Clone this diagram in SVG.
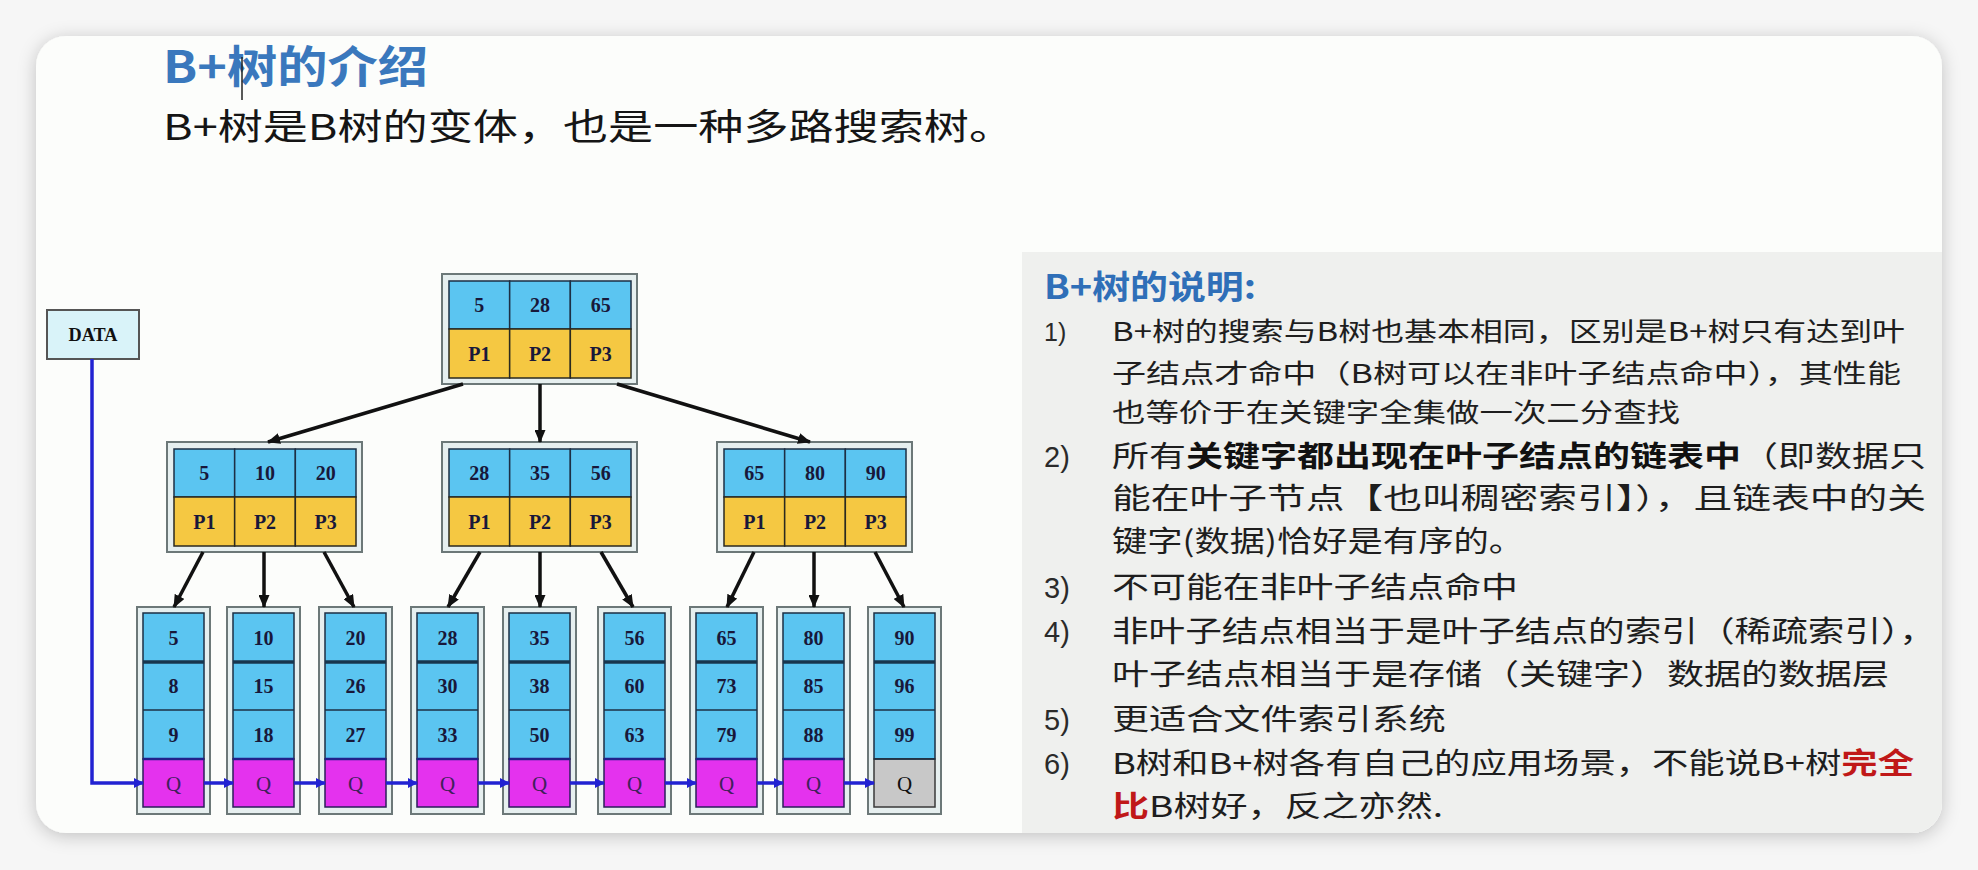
<svg xmlns="http://www.w3.org/2000/svg" width="1978" height="870" viewBox="0 0 1978 870">
<defs>
<style>
.frame{fill:#e6efef;stroke:#6c7878;stroke-width:2}
.kc{fill:#5bc5f1;stroke:#1d2f44;stroke-width:1.5}
.pc{fill:#f5c842;stroke:#2a2a20;stroke-width:1.5}
.qc{fill:#e432ee;stroke:#2a1f5a;stroke-width:1.5}
.qg{fill:#c8c8c8;stroke:#3a3a3a;stroke-width:1.5}
.ct{font-family:"Liberation Serif",serif;font-weight:bold;font-size:20px;fill:#18183a;text-anchor:middle}
.qt{font-family:"Liberation Serif",serif;font-size:21px;fill:#40205a;text-anchor:middle}
.div1{stroke:#17364e;stroke-width:3.5}
.div2{stroke:#1d2f44;stroke-width:1.5}
.div3{stroke:#22208a;stroke-width:2.5}
.arr{stroke:#111;stroke-width:3.5;fill:none;marker-end:url(#ab)}
.lnk{stroke:#2222d2;stroke-width:3.5;fill:none;marker-end:url(#ablue)}
.cj{font-family:"Noto Sans CJK SC","Noto Sans",sans-serif;fill:#1e1e1e}
.num{font-family:"Liberation Sans",sans-serif;fill:#2a2a2a}
.red{fill:#c01818;font-weight:bold}
</style>
<marker id="ab" viewBox="0 0 13 11" markerWidth="13" markerHeight="11" refX="12" refY="5.5" orient="auto" markerUnits="userSpaceOnUse"><path d="M0,0 L13,5.5 L0,11 z" fill="#111"/></marker>
<marker id="ablue" viewBox="0 0 10 10" markerWidth="10" markerHeight="10" refX="9" refY="5" orient="auto" markerUnits="userSpaceOnUse"><path d="M0,0 L10,5 L0,10 z" fill="#2222d2"/></marker>
<filter id="sh" x="-5%" y="-5%" width="110%" height="115%"><feDropShadow dx="0" dy="3" stdDeviation="9" flood-color="#000" flood-opacity="0.22"/></filter>
<clipPath id="cardclip"><rect x="36" y="36" width="1906" height="797" rx="30"/></clipPath>
</defs>

<rect x="0" y="0" width="1978" height="870" fill="#f6f6f6"/>
<g id="card">
<rect x="36" y="36" width="1906" height="797" rx="30" fill="#fcfdfb" filter="url(#sh)"/>
<rect x="1022" y="252" width="920" height="581" fill="#eff0ee" clip-path="url(#cardclip)"/>
</g>

<g id="heading">
<text x="163" y="83" class="cj" font-size="44" font-weight="bold" style="fill:#3a78bd" textLength="265" lengthAdjust="spacingAndGlyphs">B+树的介绍</text>
<text x="163" y="140" class="cj" font-size="36" textLength="851" lengthAdjust="spacingAndGlyphs" style="fill:#151515">B+树是B树的变体，也是一种多路搜索树。</text>
<line x1="242" y1="57" x2="242" y2="100" stroke="#222" stroke-width="1.5"/>
</g>

<g id="data">
<rect x="47" y="310" width="92" height="49" fill="#d9f3f9" stroke="#555" stroke-width="2"/>
<text x="93" y="341" class="ct" style="font-size:18px;fill:#111" textLength="49" lengthAdjust="spacingAndGlyphs">DATA</text>
</g>

<!-- internal nodes -->
<g id="root">
<rect class="frame" x="442" y="274" width="195" height="110"/>
<rect class="kc" x="449" y="281" width="60.67" height="48"/><rect class="kc" x="509.67" y="281" width="60.67" height="48"/><rect class="kc" x="570.33" y="281" width="60.67" height="48"/>
<rect class="pc" x="449" y="329" width="60.67" height="49"/><rect class="pc" x="509.67" y="329" width="60.67" height="49"/><rect class="pc" x="570.33" y="329" width="60.67" height="49"/>
<text class="ct" x="479.3" y="312">5</text><text class="ct" x="540" y="312">28</text><text class="ct" x="600.7" y="312">65</text>
<text class="ct" x="479.3" y="361">P1</text><text class="ct" x="540" y="361">P2</text><text class="ct" x="600.7" y="361">P3</text>
</g>
<g id="n-left">
<rect class="frame" x="167" y="442" width="195" height="110"/>
<rect class="kc" x="174" y="449" width="60.67" height="48"/><rect class="kc" x="234.67" y="449" width="60.67" height="48"/><rect class="kc" x="295.33" y="449" width="60.67" height="48"/>
<rect class="pc" x="174" y="497" width="60.67" height="49"/><rect class="pc" x="234.67" y="497" width="60.67" height="49"/><rect class="pc" x="295.33" y="497" width="60.67" height="49"/>
<text class="ct" x="204.3" y="480">5</text><text class="ct" x="265" y="480">10</text><text class="ct" x="325.7" y="480">20</text>
<text class="ct" x="204.3" y="529">P1</text><text class="ct" x="265" y="529">P2</text><text class="ct" x="325.7" y="529">P3</text>
</g>
<g id="n-mid">
<rect class="frame" x="442" y="442" width="195" height="110"/>
<rect class="kc" x="449" y="449" width="60.67" height="48"/><rect class="kc" x="509.67" y="449" width="60.67" height="48"/><rect class="kc" x="570.33" y="449" width="60.67" height="48"/>
<rect class="pc" x="449" y="497" width="60.67" height="49"/><rect class="pc" x="509.67" y="497" width="60.67" height="49"/><rect class="pc" x="570.33" y="497" width="60.67" height="49"/>
<text class="ct" x="479.3" y="480">28</text><text class="ct" x="540" y="480">35</text><text class="ct" x="600.7" y="480">56</text>
<text class="ct" x="479.3" y="529">P1</text><text class="ct" x="540" y="529">P2</text><text class="ct" x="600.7" y="529">P3</text>
</g>
<g id="n-right">
<rect class="frame" x="717" y="442" width="195" height="110"/>
<rect class="kc" x="724" y="449" width="60.67" height="48"/><rect class="kc" x="784.67" y="449" width="60.67" height="48"/><rect class="kc" x="845.33" y="449" width="60.67" height="48"/>
<rect class="pc" x="724" y="497" width="60.67" height="49"/><rect class="pc" x="784.67" y="497" width="60.67" height="49"/><rect class="pc" x="845.33" y="497" width="60.67" height="49"/>
<text class="ct" x="754.3" y="480">65</text><text class="ct" x="815" y="480">80</text><text class="ct" x="875.7" y="480">90</text>
<text class="ct" x="754.3" y="529">P1</text><text class="ct" x="815" y="529">P2</text><text class="ct" x="875.7" y="529">P3</text>
</g>

<!-- leaves -->
<g id="leaf1">
<rect class="frame" x="137" y="607" width="73" height="207"/>
<rect class="kc" x="143" y="613" width="61" height="146"/><rect class="qc" x="143" y="759" width="61" height="48"/>
<line class="div1" x1="143" y1="662" x2="204" y2="662"/><line class="div2" x1="143" y1="710" x2="204" y2="710"/><line class="div3" x1="143" y1="759" x2="204" y2="759"/>
<text class="ct" x="173.5" y="645">5</text><text class="ct" x="173.5" y="693">8</text><text class="ct" x="173.5" y="742">9</text><text class="qt" x="173.5" y="791">Q</text>
</g>
<g id="leaf2">
<rect class="frame" x="227" y="607" width="73" height="207"/>
<rect class="kc" x="233" y="613" width="61" height="146"/><rect class="qc" x="233" y="759" width="61" height="48"/>
<line class="div1" x1="233" y1="662" x2="294" y2="662"/><line class="div2" x1="233" y1="710" x2="294" y2="710"/><line class="div3" x1="233" y1="759" x2="294" y2="759"/>
<text class="ct" x="263.5" y="645">10</text><text class="ct" x="263.5" y="693">15</text><text class="ct" x="263.5" y="742">18</text><text class="qt" x="263.5" y="791">Q</text>
</g>
<g id="leaf3">
<rect class="frame" x="319" y="607" width="73" height="207"/>
<rect class="kc" x="325" y="613" width="61" height="146"/><rect class="qc" x="325" y="759" width="61" height="48"/>
<line class="div1" x1="325" y1="662" x2="386" y2="662"/><line class="div2" x1="325" y1="710" x2="386" y2="710"/><line class="div3" x1="325" y1="759" x2="386" y2="759"/>
<text class="ct" x="355.5" y="645">20</text><text class="ct" x="355.5" y="693">26</text><text class="ct" x="355.5" y="742">27</text><text class="qt" x="355.5" y="791">Q</text>
</g>
<g id="leaf4">
<rect class="frame" x="411" y="607" width="73" height="207"/>
<rect class="kc" x="417" y="613" width="61" height="146"/><rect class="qc" x="417" y="759" width="61" height="48"/>
<line class="div1" x1="417" y1="662" x2="478" y2="662"/><line class="div2" x1="417" y1="710" x2="478" y2="710"/><line class="div3" x1="417" y1="759" x2="478" y2="759"/>
<text class="ct" x="447.5" y="645">28</text><text class="ct" x="447.5" y="693">30</text><text class="ct" x="447.5" y="742">33</text><text class="qt" x="447.5" y="791">Q</text>
</g>
<g id="leaf5">
<rect class="frame" x="503" y="607" width="73" height="207"/>
<rect class="kc" x="509" y="613" width="61" height="146"/><rect class="qc" x="509" y="759" width="61" height="48"/>
<line class="div1" x1="509" y1="662" x2="570" y2="662"/><line class="div2" x1="509" y1="710" x2="570" y2="710"/><line class="div3" x1="509" y1="759" x2="570" y2="759"/>
<text class="ct" x="539.5" y="645">35</text><text class="ct" x="539.5" y="693">38</text><text class="ct" x="539.5" y="742">50</text><text class="qt" x="539.5" y="791">Q</text>
</g>
<g id="leaf6">
<rect class="frame" x="598" y="607" width="73" height="207"/>
<rect class="kc" x="604" y="613" width="61" height="146"/><rect class="qc" x="604" y="759" width="61" height="48"/>
<line class="div1" x1="604" y1="662" x2="665" y2="662"/><line class="div2" x1="604" y1="710" x2="665" y2="710"/><line class="div3" x1="604" y1="759" x2="665" y2="759"/>
<text class="ct" x="634.5" y="645">56</text><text class="ct" x="634.5" y="693">60</text><text class="ct" x="634.5" y="742">63</text><text class="qt" x="634.5" y="791">Q</text>
</g>
<g id="leaf7">
<rect class="frame" x="690" y="607" width="73" height="207"/>
<rect class="kc" x="696" y="613" width="61" height="146"/><rect class="qc" x="696" y="759" width="61" height="48"/>
<line class="div1" x1="696" y1="662" x2="757" y2="662"/><line class="div2" x1="696" y1="710" x2="757" y2="710"/><line class="div3" x1="696" y1="759" x2="757" y2="759"/>
<text class="ct" x="726.5" y="645">65</text><text class="ct" x="726.5" y="693">73</text><text class="ct" x="726.5" y="742">79</text><text class="qt" x="726.5" y="791">Q</text>
</g>
<g id="leaf8">
<rect class="frame" x="777" y="607" width="73" height="207"/>
<rect class="kc" x="783" y="613" width="61" height="146"/><rect class="qc" x="783" y="759" width="61" height="48"/>
<line class="div1" x1="783" y1="662" x2="844" y2="662"/><line class="div2" x1="783" y1="710" x2="844" y2="710"/><line class="div3" x1="783" y1="759" x2="844" y2="759"/>
<text class="ct" x="813.5" y="645">80</text><text class="ct" x="813.5" y="693">85</text><text class="ct" x="813.5" y="742">88</text><text class="qt" x="813.5" y="791">Q</text>
</g>
<g id="leaf9">
<rect class="frame" x="868" y="607" width="73" height="207"/>
<rect class="kc" x="874" y="613" width="61" height="146"/><rect class="qg" x="874" y="759" width="61" height="48"/>
<line class="div1" x1="874" y1="662" x2="935" y2="662"/><line class="div2" x1="874" y1="710" x2="935" y2="710"/><line class="div2" x1="874" y1="759" x2="935" y2="759"/>
<text class="ct" x="904.5" y="645">90</text><text class="ct" x="904.5" y="693">96</text><text class="ct" x="904.5" y="742">99</text><text class="qt" x="904.5" y="791" style="fill:#111">Q</text>
</g>

<g id="connectors">
<line class="arr" x1="463" y1="384" x2="268" y2="442"/>
<line class="arr" x1="540" y1="384" x2="540" y2="442"/>
<line class="arr" x1="617" y1="384" x2="810" y2="442"/>
<line class="arr" x1="203" y1="552" x2="174" y2="607"/>
<line class="arr" x1="264" y1="552" x2="264" y2="607"/>
<line class="arr" x1="324" y1="552" x2="354" y2="607"/>
<line class="arr" x1="480" y1="552" x2="448" y2="607"/>
<line class="arr" x1="540" y1="552" x2="540" y2="607"/>
<line class="arr" x1="601" y1="552" x2="633" y2="607"/>
<line class="arr" x1="754" y1="552" x2="727" y2="607"/>
<line class="arr" x1="814" y1="552" x2="814" y2="607"/>
<line class="arr" x1="875" y1="552" x2="904" y2="607"/>
<path class="lnk" d="M92,359 V783 H143"/>
<line class="lnk" x1="204" y1="783" x2="233" y2="783"/>
<line class="lnk" x1="294" y1="783" x2="325" y2="783"/>
<line class="lnk" x1="386" y1="783" x2="417" y2="783"/>
<line class="lnk" x1="478" y1="783" x2="509" y2="783"/>
<line class="lnk" x1="570" y1="783" x2="604" y2="783"/>
<line class="lnk" x1="665" y1="783" x2="696" y2="783"/>
<line class="lnk" x1="757" y1="783" x2="783" y2="783"/>
<line class="lnk" x1="844" y1="783" x2="874" y2="783"/>
</g>

<g id="notes">
<text x="1044" y="299" class="cj" font-size="33" font-weight="bold" style="fill:#2f6fb8" textLength="212" lengthAdjust="spacingAndGlyphs">B+树的说明:</text>
<text x="1044" y="341" class="num" font-size="25">1)</text>
<text x="1112" y="341" class="cj" font-size="26" textLength="793" lengthAdjust="spacingAndGlyphs">B+树的搜索与B树也基本相同，区别是B+树只有达到叶</text>
<text x="1112" y="383" class="cj" font-size="26" textLength="789" lengthAdjust="spacingAndGlyphs">子结点才命中（B树可以在非叶子结点命中），其性能</text>
<text x="1112" y="422" class="cj" font-size="26" textLength="568" lengthAdjust="spacingAndGlyphs">也等价于在关键字全集做一次二分查找</text>
<text x="1044" y="467" class="num" font-size="29">2)</text>
<text x="1112" y="467" class="cj" font-size="29" textLength="814" lengthAdjust="spacingAndGlyphs">所有<tspan font-weight="bold" style="fill:#111">关键字都出现在叶子结点的链表中</tspan>（即数据只</text>
<text x="1112" y="509" class="cj" font-size="29" textLength="814" lengthAdjust="spacingAndGlyphs">能在叶子节点【也叫稠密索引】），且链表中的关</text>
<text x="1112" y="552" class="cj" font-size="29" textLength="412" lengthAdjust="spacingAndGlyphs">键字(数据)恰好是有序的。</text>
<text x="1044" y="598" class="num" font-size="29">3)</text>
<text x="1112" y="598" class="cj" font-size="29" textLength="406" lengthAdjust="spacingAndGlyphs">不可能在非叶子结点命中</text>
<text x="1044" y="642" class="num" font-size="29">4)</text>
<text x="1112" y="642" class="cj" font-size="29" textLength="824" lengthAdjust="spacingAndGlyphs">非叶子结点相当于是叶子结点的索引（稀疏索引），</text>
<text x="1112" y="685" class="cj" font-size="29" textLength="777" lengthAdjust="spacingAndGlyphs">叶子结点相当于是存储（关键字）数据的数据层</text>
<text x="1044" y="730" class="num" font-size="29">5)</text>
<text x="1112" y="730" class="cj" font-size="29" textLength="334" lengthAdjust="spacingAndGlyphs">更适合文件索引系统</text>
<text x="1044" y="774" class="num" font-size="29">6)</text>
<text x="1112" y="774" class="cj" font-size="29" textLength="802" lengthAdjust="spacingAndGlyphs">B树和B+树各有自己的应用场景，不能说B+树<tspan class="red">完全</tspan></text>
<text x="1112" y="817" class="cj" font-size="29" textLength="331" lengthAdjust="spacingAndGlyphs"><tspan class="red">比</tspan>B树好，反之亦然.</text>
</g>
</svg>
